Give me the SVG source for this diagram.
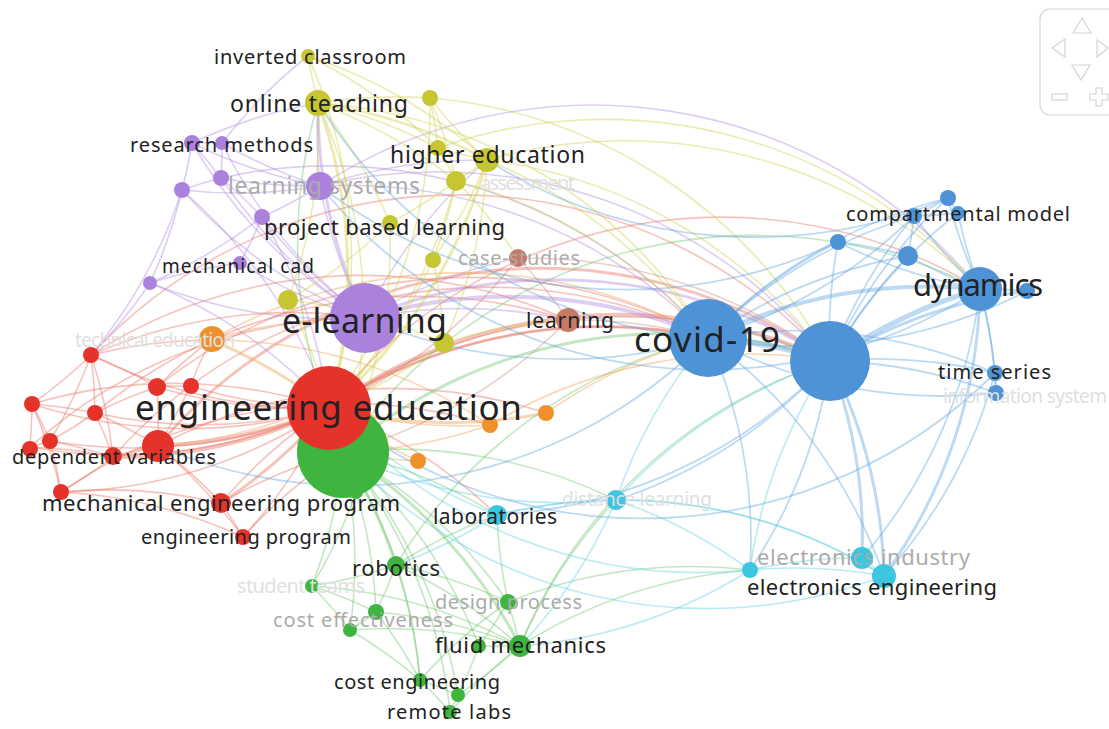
<svg xmlns="http://www.w3.org/2000/svg" width="1109" height="729" viewBox="0 0 1109 729">
<style>
path{fill:none;stroke-linecap:round}
.er{stroke:#e8705f;stroke-opacity:.42;stroke-width:1.6}
.eg{stroke:#62c062;stroke-opacity:.38;stroke-width:1.6}
.ep{stroke:#b08be0;stroke-opacity:.42;stroke-width:1.6}
.ey{stroke:#cfcf48;stroke-opacity:.42;stroke-width:1.6}
.eb{stroke:#c8907e;stroke-opacity:.42;stroke-width:1.6}
.eo{stroke:#f0a050;stroke-opacity:.42;stroke-width:1.6}
.ec{stroke:#64a6e0;stroke-opacity:.42;stroke-width:1.8}
.ek{stroke:#5cd0e0;stroke-opacity:.42;stroke-width:1.6}
.red{fill:#e5332b}.grn{fill:#3fb53f}.pur{fill:#aa82de}.yel{fill:#c6c632}.brn{fill:#c67a66}.org{fill:#f0902c}.blu{fill:#4d93d6}.cyn{fill:#3cc6e0}
text{font-family:"Noto Sans","Liberation Sans",sans-serif;fill:#222}
.f{fill:#ababab}.ff{fill:#e0e0e0}
.nav{fill:none;stroke:#d4d4d4;stroke-width:1.2}
</style>
<rect width="1109" height="729" fill="#fff"/>
<g id="connectors">
<path class="er" d="M329 408A500 500 0 0 1 91 355"/>
<path class="er" d="M329 408A500 500 0 0 1 32 404"/>
<path class="er" d="M329 408A500 500 0 0 1 95 413"/>
<path class="er" d="M329 408A500 500 0 0 1 157 387"/>
<path class="er" d="M329 408A500 500 0 0 1 190 386"/>
<path class="er" d="M329 408A500 500 0 0 1 50 441"/>
<path class="er" d="M329 408A500 500 0 0 1 30 447"/>
<path class="er" style="stroke-width:4" d="M329 408A500 500 0 0 1 113 457"/>
<path class="er" style="stroke-width:4" d="M329 408A500 500 0 0 1 158 446"/>
<path class="er" d="M329 408A500 500 0 0 1 61 492"/>
<path class="er" style="stroke-width:3" d="M329 408A500 500 0 0 1 221 503"/>
<path class="er" d="M329 408A500 500 0 0 1 243 537"/>
<path class="er" d="M91 355A500 500 0 0 1 32 404"/>
<path class="er" d="M91 355A500 500 0 0 1 95 413"/>
<path class="er" d="M91 355A500 500 0 0 1 157 387"/>
<path class="er" d="M91 355A500 500 0 0 1 211 340"/>
<path class="er" d="M91 355A500 500 0 0 1 50 441"/>
<path class="er" d="M91 355A500 500 0 0 1 113 457"/>
<path class="er" d="M91 355A500 500 0 0 1 365 318"/>
<path class="er" d="M32 404A500 500 0 0 1 95 413"/>
<path class="er" d="M32 404A500 500 0 0 1 50 441"/>
<path class="er" d="M32 404A500 500 0 0 1 30 447"/>
<path class="er" d="M32 404A500 500 0 0 1 61 492"/>
<path class="er" d="M95 413A500 500 0 0 1 157 387"/>
<path class="er" d="M95 413A500 500 0 0 1 50 441"/>
<path class="er" d="M95 413A500 500 0 0 1 158 446"/>
<path class="er" d="M95 413A500 500 0 0 1 113 457"/>
<path class="er" d="M157 387A500 500 0 0 1 190 386"/>
<path class="er" d="M157 387A500 500 0 0 1 158 446"/>
<path class="er" d="M157 387A500 500 0 0 1 211 340"/>
<path class="er" d="M190 386A500 500 0 0 1 211 340"/>
<path class="er" d="M190 386A500 500 0 0 1 158 446"/>
<path class="er" d="M50 441A500 500 0 0 1 30 447"/>
<path class="er" d="M50 441A500 500 0 0 1 113 457"/>
<path class="er" d="M50 441A500 500 0 0 1 61 492"/>
<path class="er" d="M30 447A500 500 0 0 1 113 457"/>
<path class="er" style="stroke-width:3" d="M113 457A500 500 0 0 1 158 446"/>
<path class="er" d="M113 457A500 500 0 0 1 61 492"/>
<path class="er" d="M158 446A500 500 0 0 1 221 503"/>
<path class="er" d="M158 446A500 500 0 0 1 243 537"/>
<path class="er" d="M61 492A500 500 0 0 1 221 503"/>
<path class="er" d="M61 492A500 500 0 0 1 243 537"/>
<path class="er" d="M221 503A500 500 0 0 1 243 537"/>
<path class="er" d="M221 503A500 500 0 0 1 343 452"/>
<path class="er" d="M243 537A500 500 0 0 1 343 452"/>
<path class="er" style="stroke-width:3" d="M158 446A500 500 0 0 1 830 361"/>
<path class="er" d="M113 457A500 500 0 0 1 708 338"/>
<path class="er" d="M91 355A500 500 0 0 1 568 320"/>
<path class="er" d="M158 446A500 500 0 0 1 546 413"/>
<path class="er" style="stroke-width:3" d="M329 408A500 500 0 0 1 708 338"/>
<path class="er" style="stroke-width:4" d="M329 408A500 500 0 0 1 830 361"/>
<path class="er" d="M329 408A500 500 0 0 1 568 320"/>
<path class="er" d="M329 408A500 500 0 0 1 497 515"/>
<path class="er" d="M329 408A500 500 0 0 1 980 289"/>
<path class="er" d="M157 387A500 500 0 0 1 708 338"/>
<path class="er" d="M30 447A500 500 0 0 1 365 318"/>
<path class="er" d="M61 492A500 500 0 0 1 490 425"/>
<path class="er" d="M91 355A500 500 0 0 1 830 361"/>
<path class="er" d="M95 413A500 500 0 0 1 568 320"/>
<path class="er" d="M221 503A500 500 0 0 1 708 338"/>
<path class="er" d="M32 404A500 500 0 0 1 329 408"/>
<path class="eo" style="stroke-width:3" d="M211 340A500 500 0 0 1 329 408"/>
<path class="eo" d="M490 425A500 500 0 0 1 329 408"/>
<path class="eo" style="stroke-width:3" d="M546 413A500 500 0 0 1 329 408"/>
<path class="eo" d="M418 461A500 500 0 0 1 329 408"/>
<path class="eo" d="M490 425A500 500 0 0 1 343 452"/>
<path class="eo" d="M211 340A500 500 0 0 1 365 318"/>
<path class="eo" d="M546 413A500 500 0 0 1 708 338"/>
<path class="eo" d="M490 425A500 500 0 0 1 830 361"/>
<path class="eo" d="M418 461A500 500 0 0 1 343 452"/>
<path class="eo" d="M211 340A500 500 0 0 1 490 425"/>
<path class="eo" d="M283 420A500 500 0 0 1 158 446"/>
<path class="eo" d="M211 340A500 500 0 0 1 708 338"/>
<path class="eg" d="M343 452A500 500 0 0 1 356 492"/>
<path class="eg" style="stroke-width:3" d="M343 452A500 500 0 0 1 396 565"/>
<path class="eg" d="M343 452A500 500 0 0 1 312 586"/>
<path class="eg" d="M343 452A500 500 0 0 1 376 612"/>
<path class="eg" d="M343 452A500 500 0 0 1 350 630"/>
<path class="eg" d="M343 452A500 500 0 0 1 508 602"/>
<path class="eg" style="stroke-width:3" d="M343 452A500 500 0 0 1 520 646"/>
<path class="eg" d="M343 452A500 500 0 0 1 479 646"/>
<path class="eg" d="M343 452A500 500 0 0 1 420 680"/>
<path class="eg" d="M343 452A500 500 0 0 1 458 695"/>
<path class="eg" d="M343 452A500 500 0 0 1 450 712"/>
<path class="eg" d="M343 452A500 500 0 0 1 497 515"/>
<path class="eg" d="M343 452A500 500 0 0 1 616 500"/>
<path class="eg" style="stroke-width:3" d="M343 452A500 500 0 0 1 830 361"/>
<path class="eg" d="M343 452A500 500 0 0 1 318 103"/>
<path class="eg" d="M396 565A500 500 0 0 1 312 586"/>
<path class="eg" d="M396 565A500 500 0 0 1 376 612"/>
<path class="eg" d="M396 565A500 500 0 0 1 508 602"/>
<path class="eg" d="M396 565A500 500 0 0 1 520 646"/>
<path class="eg" d="M396 565A500 500 0 0 1 420 680"/>
<path class="eg" d="M396 565A500 500 0 0 1 497 515"/>
<path class="eg" d="M312 586A500 500 0 0 1 376 612"/>
<path class="eg" d="M312 586A500 500 0 0 1 350 630"/>
<path class="eg" d="M376 612A500 500 0 0 1 350 630"/>
<path class="eg" d="M376 612A500 500 0 0 1 420 680"/>
<path class="eg" d="M350 630A500 500 0 0 1 420 680"/>
<path class="eg" d="M508 602A500 500 0 0 1 520 646"/>
<path class="eg" d="M508 602A500 500 0 0 1 479 646"/>
<path class="eg" d="M520 646A500 500 0 0 1 479 646"/>
<path class="eg" d="M520 646A500 500 0 0 1 458 695"/>
<path class="eg" d="M479 646A500 500 0 0 1 458 695"/>
<path class="eg" d="M420 680A500 500 0 0 1 458 695"/>
<path class="eg" d="M420 680A500 500 0 0 1 450 712"/>
<path class="eg" d="M458 695A500 500 0 0 1 450 712"/>
<path class="eg" d="M508 602A500 500 0 0 1 497 515"/>
<path class="eg" d="M520 646A500 500 0 0 1 616 500"/>
<path class="eg" d="M520 646A500 500 0 0 1 750 570"/>
<path class="eg" d="M376 612A500 500 0 0 1 520 646"/>
<path class="eg" d="M350 630A500 500 0 0 1 520 646"/>
<path class="eg" d="M312 586A500 500 0 0 1 520 646"/>
<path class="eg" d="M520 646A500 500 0 0 1 830 361"/>
<path class="eg" d="M508 602A500 500 0 0 1 750 570"/>
<path class="eg" d="M356 492A500 500 0 0 1 312 586"/>
<path class="eg" d="M420 680A500 500 0 0 1 508 602"/>
<path class="eg" d="M450 712A500 500 0 0 1 520 646"/>
<path class="eg" d="M396 565A500 500 0 0 1 708 338"/>
<path class="eg" d="M343 452A500 500 0 0 1 980 289"/>
<path class="ep" d="M365 318A500 500 0 0 1 320 186"/>
<path class="ep" d="M365 318A500 500 0 0 1 192 143"/>
<path class="ep" d="M365 318A500 500 0 0 1 222 143"/>
<path class="ep" d="M365 318A500 500 0 0 1 182 190"/>
<path class="ep" d="M365 318A500 500 0 0 1 221 178"/>
<path class="ep" d="M365 318A500 500 0 0 1 262 217"/>
<path class="ep" d="M365 318A500 500 0 0 1 150 283"/>
<path class="ep" d="M365 318A500 500 0 0 1 240 263"/>
<path class="ep" style="stroke-width:3" d="M365 318A500 500 0 0 1 318 103"/>
<path class="ep" d="M365 318A500 500 0 0 1 487 160"/>
<path class="ep" style="stroke-width:4" d="M365 318A500 500 0 0 1 708 338"/>
<path class="ep" style="stroke-width:3" d="M365 318A500 500 0 0 1 830 361"/>
<path class="ep" d="M365 318A500 500 0 0 1 568 320"/>
<path class="ep" d="M365 318A500 500 0 0 1 518 258"/>
<path class="ep" d="M320 186A500 500 0 0 1 192 143"/>
<path class="ep" d="M320 186A500 500 0 0 1 222 143"/>
<path class="ep" d="M320 186A500 500 0 0 1 182 190"/>
<path class="ep" d="M320 186A500 500 0 0 1 221 178"/>
<path class="ep" d="M320 186A500 500 0 0 1 262 217"/>
<path class="ep" d="M320 186A500 500 0 0 1 318 103"/>
<path class="ep" d="M320 186A500 500 0 0 1 487 160"/>
<path class="ep" d="M320 186A500 500 0 0 1 830 361"/>
<path class="ep" d="M192 143A500 500 0 0 1 222 143"/>
<path class="ep" d="M192 143A500 500 0 0 1 182 190"/>
<path class="ep" d="M192 143A500 500 0 0 1 221 178"/>
<path class="ep" d="M222 143A500 500 0 0 1 221 178"/>
<path class="ep" d="M182 190A500 500 0 0 1 221 178"/>
<path class="ep" d="M182 190A500 500 0 0 1 150 283"/>
<path class="ep" d="M182 190A500 500 0 0 1 91 355"/>
<path class="ep" d="M221 178A500 500 0 0 1 262 217"/>
<path class="ep" d="M262 217A500 500 0 0 1 150 283"/>
<path class="ep" d="M262 217A500 500 0 0 1 240 263"/>
<path class="ep" d="M150 283A500 500 0 0 1 240 263"/>
<path class="ep" d="M150 283A500 500 0 0 1 91 355"/>
<path class="ep" d="M192 143A500 500 0 0 1 318 103"/>
<path class="ep" d="M222 143A500 500 0 0 1 308 56"/>
<path class="ep" d="M182 190A500 500 0 0 1 329 408"/>
<path class="ep" d="M150 283A500 500 0 0 1 329 408"/>
<path class="ep" d="M262 217A500 500 0 0 1 329 408"/>
<path class="ep" d="M320 186A500 500 0 0 1 708 338"/>
<path class="ep" d="M320 186A500 500 0 0 1 980 289"/>
<path class="ep" d="M221 178A500 500 0 0 1 708 338"/>
<path class="ey" d="M318 103A500 500 0 0 1 308 56"/>
<path class="ey" d="M318 103A500 500 0 0 1 430 98"/>
<path class="ey" style="stroke-width:2.5" d="M318 103A500 500 0 0 1 487 160"/>
<path class="ey" d="M318 103A500 500 0 0 1 438 148"/>
<path class="ey" d="M318 103A500 500 0 0 1 456 181"/>
<path class="ey" d="M318 103A500 500 0 0 1 390 223"/>
<path class="ey" d="M318 103A500 500 0 0 1 288 300"/>
<path class="ey" style="stroke-width:3" d="M318 103A500 500 0 0 1 329 408"/>
<path class="ey" d="M487 160A500 500 0 0 1 430 98"/>
<path class="ey" d="M487 160A500 500 0 0 1 438 148"/>
<path class="ey" d="M487 160A500 500 0 0 1 456 181"/>
<path class="ey" d="M487 160A500 500 0 0 1 433 260"/>
<path class="ey" d="M487 160A500 500 0 0 1 444 343"/>
<path class="ey" style="stroke-width:3" d="M487 160A500 500 0 0 1 329 408"/>
<path class="ey" d="M487 160A500 500 0 0 1 830 361"/>
<path class="ey" d="M487 160A500 500 0 0 1 980 289"/>
<path class="ey" d="M430 98A500 500 0 0 1 438 148"/>
<path class="ey" d="M430 98A500 500 0 0 1 456 181"/>
<path class="ey" d="M308 56A500 500 0 0 1 438 148"/>
<path class="ey" d="M308 56A500 500 0 0 1 487 160"/>
<path class="ey" d="M438 148A500 500 0 0 1 456 181"/>
<path class="ey" d="M456 181A500 500 0 0 1 433 260"/>
<path class="ey" d="M456 181A500 500 0 0 1 390 223"/>
<path class="ey" d="M456 181A500 500 0 0 1 329 408"/>
<path class="ey" d="M456 181A500 500 0 0 1 518 258"/>
<path class="ey" d="M433 260A500 500 0 0 1 444 343"/>
<path class="ey" d="M433 260A500 500 0 0 1 329 408"/>
<path class="ey" d="M390 223A500 500 0 0 1 288 300"/>
<path class="ey" d="M288 300A500 500 0 0 1 329 408"/>
<path class="ey" d="M288 300A500 500 0 0 1 444 343"/>
<path class="ey" d="M444 343A500 500 0 0 1 329 408"/>
<path class="ey" d="M444 343A500 500 0 0 1 568 320"/>
<path class="ey" d="M430 98A500 500 0 0 1 329 408"/>
<path class="ey" d="M308 56A500 500 0 0 1 329 408"/>
<path class="ey" d="M487 160A500 500 0 0 1 708 338"/>
<path class="ey" d="M456 181A500 500 0 0 1 708 338"/>
<path class="ey" d="M430 98A500 500 0 0 1 830 361"/>
<path class="ey" d="M318 103A500 500 0 0 1 343 452"/>
<path class="ey" d="M390 223A500 500 0 0 1 343 452"/>
<path class="ey" d="M318 103A500 500 0 0 1 708 338"/>
<path class="ey" d="M438 148A500 500 0 0 1 980 289"/>
<path class="eb" d="M518 258A500 500 0 0 1 568 320"/>
<path class="eb" d="M518 258A500 500 0 0 1 329 408"/>
<path class="eb" d="M568 320A500 500 0 0 1 708 338"/>
<path class="eb" d="M568 320A500 500 0 0 1 830 361"/>
<path class="eb" d="M518 258A500 500 0 0 1 830 361"/>
<path class="eb" d="M568 320A500 500 0 0 1 343 452"/>
<path class="ec" style="stroke-width:6" d="M708 338A500 500 0 0 1 830 361"/>
<path class="ec" style="stroke-width:5" d="M830 361A500 500 0 0 1 980 289"/>
<path class="ec" style="stroke-width:4" d="M708 338A500 500 0 0 1 980 289"/>
<path class="ec" d="M830 361A500 500 0 0 1 948 198"/>
<path class="ec" d="M830 361A500 500 0 0 1 958 213"/>
<path class="ec" d="M830 361A500 500 0 0 1 914 216"/>
<path class="ec" d="M830 361A500 500 0 0 1 838 242"/>
<path class="ec" d="M830 361A500 500 0 0 1 908 256"/>
<path class="ec" style="stroke-width:3" d="M830 361A500 500 0 0 1 1027 291"/>
<path class="ec" d="M830 361A500 500 0 0 1 995 373"/>
<path class="ec" d="M830 361A500 500 0 0 1 996 393"/>
<path class="ec" d="M708 338A500 500 0 0 1 948 198"/>
<path class="ec" d="M708 338A500 500 0 0 1 914 216"/>
<path class="ec" d="M708 338A500 500 0 0 1 838 242"/>
<path class="ec" d="M708 338A500 500 0 0 1 908 256"/>
<path class="ec" d="M708 338A500 500 0 0 1 995 373"/>
<path class="ec" d="M980 289A500 500 0 0 1 948 198"/>
<path class="ec" d="M980 289A500 500 0 0 1 958 213"/>
<path class="ec" d="M980 289A500 500 0 0 1 914 216"/>
<path class="ec" d="M980 289A500 500 0 0 1 838 242"/>
<path class="ec" d="M980 289A500 500 0 0 1 908 256"/>
<path class="ec" d="M980 289A500 500 0 0 1 1027 291"/>
<path class="ec" d="M980 289A500 500 0 0 1 995 373"/>
<path class="ec" d="M980 289A500 500 0 0 1 996 393"/>
<path class="ec" d="M948 198A500 500 0 0 1 958 213"/>
<path class="ec" d="M948 198A500 500 0 0 1 914 216"/>
<path class="ec" d="M958 213A500 500 0 0 1 914 216"/>
<path class="ec" d="M914 216A500 500 0 0 1 908 256"/>
<path class="ec" d="M838 242A500 500 0 0 1 908 256"/>
<path class="ec" d="M995 373A500 500 0 0 1 996 393"/>
<path class="ec" d="M830 361A500 500 0 0 1 497 515"/>
<path class="ec" d="M830 361A500 500 0 0 1 616 500"/>
<path class="ec" d="M708 338A500 500 0 0 1 750 570"/>
<path class="ec" d="M980 289A500 500 0 0 1 862 558"/>
<path class="ec" style="stroke-width:3" d="M830 361A500 500 0 0 1 862 558"/>
<path class="ec" style="stroke-width:3" d="M830 361A500 500 0 0 1 884 576"/>
<path class="ec" d="M708 338A500 500 0 0 1 884 576"/>
<path class="ec" style="stroke-width:3" d="M980 289A500 500 0 0 1 884 576"/>
<path class="ec" d="M995 373A500 500 0 0 1 884 576"/>
<path class="ec" d="M708 338A500 500 0 0 1 158 446"/>
<path class="ec" d="M708 338A500 500 0 0 1 318 103"/>
<path class="ec" d="M980 289A500 500 0 0 1 320 186"/>
<path class="ec" d="M838 242A500 500 0 0 1 320 186"/>
<path class="ec" d="M948 198A500 500 0 0 1 487 160"/>
<path class="ec" d="M1027 291A500 500 0 0 1 708 338"/>
<path class="ec" d="M996 393A500 500 0 0 1 708 338"/>
<path class="ec" d="M830 361A500 500 0 0 1 750 570"/>
<path class="ec" d="M914 216A500 500 0 0 1 365 318"/>
<path class="ec" d="M995 373A500 500 0 0 1 329 408"/>
<path class="ek" d="M497 515A500 500 0 0 1 616 500"/>
<path class="ek" d="M497 515A500 500 0 0 1 329 408"/>
<path class="ek" d="M616 500A500 500 0 0 1 343 452"/>
<path class="ek" d="M616 500A500 500 0 0 1 750 570"/>
<path class="ek" d="M616 500A500 500 0 0 1 884 576"/>
<path class="ek" d="M750 570A500 500 0 0 1 862 558"/>
<path class="ek" d="M750 570A500 500 0 0 1 884 576"/>
<path class="ek" d="M862 558A500 500 0 0 1 884 576"/>
<path class="ek" d="M616 500A500 500 0 0 1 708 338"/>
<path class="ek" d="M616 500A500 500 0 0 1 830 361"/>
<path class="ek" d="M750 570A500 500 0 0 1 830 361"/>
<path class="ek" d="M750 570A500 500 0 0 1 520 646"/>
<path class="ek" d="M497 515A500 500 0 0 1 396 565"/>
<path class="ek" d="M616 500A500 500 0 0 1 520 646"/>
<path class="ek" d="M497 515A500 500 0 0 1 884 576"/>
<path class="ek" d="M750 570A500 500 0 0 1 329 408"/>
<path class="ek" d="M884 576A500 500 0 0 1 343 452"/>
</g>
<g id="nodes">
<g id="n-engineering-education-green"><circle class="grn" cx="343" cy="452" r="46"/></g>
<g id="n-engineering-education"><circle class="red" cx="329" cy="408" r="42"/></g>
<g id="n-r1"><circle class="red" cx="91" cy="355" r="8"/></g>
<g id="n-r2"><circle class="red" cx="32" cy="404" r="8"/></g>
<g id="n-r3"><circle class="red" cx="95" cy="413" r="8"/></g>
<g id="n-r4"><circle class="red" cx="157" cy="387" r="9"/></g>
<g id="n-r5"><circle class="red" cx="191" cy="386" r="8"/></g>
<g id="n-r6"><circle class="red" cx="50" cy="441" r="8"/></g>
<g id="n-r7"><circle class="red" cx="30" cy="449" r="8"/></g>
<g id="n-dependent-variables"><circle class="red" cx="113" cy="456" r="9"/></g>
<g id="n-r9"><circle class="red" cx="158" cy="446" r="16"/></g>
<g id="n-r10"><circle class="red" cx="61" cy="492" r="8"/></g>
<g id="n-mechanical-engineering-program"><circle class="red" cx="221" cy="503" r="10"/></g>
<g id="n-engineering-program"><circle class="red" cx="243" cy="537" r="8"/></g>
<g id="n-o1"><circle class="org" cx="212" cy="339" r="13"/></g>
<g id="n-o2"><circle class="org" cx="490" cy="425" r="8"/></g>
<g id="n-o3"><circle class="org" cx="546" cy="413" r="8"/></g>
<g id="n-o4"><circle class="org" cx="418" cy="461" r="8"/></g>
<g id="n-g1"><circle class="grn" cx="356" cy="492" r="7"/></g>
<g id="n-robotics"><circle class="grn" cx="396" cy="565" r="9"/></g>
<g id="n-student-teams"><circle class="grn" cx="312" cy="586" r="7"/></g>
<g id="n-cost-effectiveness"><circle class="grn" cx="376" cy="612" r="8"/></g>
<g id="n-g5"><circle class="grn" cx="350" cy="630" r="7"/></g>
<g id="n-design-process"><circle class="grn" cx="508" cy="602" r="8"/></g>
<g id="n-fluid-mechanics"><circle class="grn" cx="520" cy="646" r="11"/></g>
<g id="n-g8"><circle class="grn" cx="479" cy="646" r="7"/></g>
<g id="n-cost-engineering"><circle class="grn" cx="420" cy="680" r="7"/></g>
<g id="n-g10"><circle class="grn" cx="458" cy="695" r="7"/></g>
<g id="n-remote-labs"><circle class="grn" cx="450" cy="712" r="7"/></g>
<g id="n-e-learning"><circle class="pur" cx="365" cy="318" r="35"/></g>
<g id="n-learning-systems"><circle class="pur" cx="320" cy="186" r="14"/></g>
<g id="n-research-methods"><circle class="pur" cx="192" cy="143" r="8"/></g>
<g id="n-p3"><circle class="pur" cx="222" cy="143" r="7"/></g>
<g id="n-p4"><circle class="pur" cx="182" cy="190" r="8"/></g>
<g id="n-p5"><circle class="pur" cx="221" cy="178" r="8"/></g>
<g id="n-p6"><circle class="pur" cx="262" cy="217" r="8"/></g>
<g id="n-p7"><circle class="pur" cx="150" cy="283" r="7"/></g>
<g id="n-mechanical-cad"><circle class="pur" cx="240" cy="263" r="7"/></g>
<g id="n-inverted-classroom"><circle class="yel" cx="308" cy="56" r="7"/></g>
<g id="n-online-teaching"><circle class="yel" cx="318" cy="103" r="13"/></g>
<g id="n-y3"><circle class="yel" cx="430" cy="98" r="8"/></g>
<g id="n-higher-education"><circle class="yel" cx="487" cy="160" r="12"/></g>
<g id="n-y5"><circle class="yel" cx="438" cy="148" r="8"/></g>
<g id="n-y6"><circle class="yel" cx="456" cy="181" r="10"/></g>
<g id="n-y7"><circle class="yel" cx="433" cy="260" r="8"/></g>
<g id="n-project-based-learning"><circle class="yel" cx="390" cy="223" r="8"/></g>
<g id="n-y9"><circle class="yel" cx="288" cy="300" r="10"/></g>
<g id="n-y10"><circle class="yel" cx="444" cy="343" r="10"/></g>
<g id="n-case-studies"><circle class="brn" cx="518" cy="258" r="9"/></g>
<g id="n-learning"><circle class="brn" cx="568" cy="320" r="12"/></g>
<g id="n-covid-19"><circle class="blu" cx="708" cy="338" r="39"/></g>
<g id="n-c1"><circle class="blu" cx="830" cy="361" r="40"/></g>
<g id="n-dynamics"><circle class="blu" cx="980" cy="289" r="22"/></g>
<g id="n-c3"><circle class="blu" cx="948" cy="198" r="8"/></g>
<g id="n-compartmental-model"><circle class="blu" cx="958" cy="213" r="7"/></g>
<g id="n-c5"><circle class="blu" cx="914" cy="216" r="8"/></g>
<g id="n-c6"><circle class="blu" cx="838" cy="242" r="8"/></g>
<g id="n-c7"><circle class="blu" cx="908" cy="256" r="10"/></g>
<g id="n-c8"><circle class="blu" cx="1027" cy="291" r="8"/></g>
<g id="n-time-series"><circle class="blu" cx="995" cy="373" r="8"/></g>
<g id="n-information-system"><circle class="blu" cx="996" cy="393" r="8"/></g>
<g id="n-laboratories"><circle class="cyn" cx="497" cy="515" r="10"/></g>
<g id="n-distance-learning"><circle class="cyn" cx="616" cy="500" r="10"/></g>
<g id="n-k3"><circle class="cyn" cx="750" cy="570" r="8"/></g>
<g id="n-electronics-industry"><circle class="cyn" cx="862" cy="558" r="11"/></g>
<g id="n-electronics-engineering"><circle class="cyn" cx="884" cy="576" r="12"/></g>
</g>
<g id="labels">
<text x="214" y="64" font-size="20" textLength="192">inverted classroom</text>
<text x="230" y="112" font-size="23" textLength="178">online teaching</text>
<text x="130" y="152" font-size="20" textLength="183">research methods</text>
<text x="390" y="163" font-size="23" textLength="195">higher education</text>
<text class="f" x="228" y="194" font-size="23" textLength="192">learning systems</text>
<text class="ff" x="480" y="190" font-size="20" textLength="95">assessment</text>
<text x="264" y="235" font-size="22" textLength="241">project based learning</text>
<text class="f" x="458" y="265" font-size="20" textLength="122">case-studies</text>
<text x="162" y="273" font-size="19" textLength="152">mechanical cad</text>
<text class="ff" x="75" y="347" font-size="19" textLength="160">technical education</text>
<text x="282" y="333" font-size="34" textLength="165">e-learning</text>
<text x="526" y="328" font-size="21" textLength="88">learning</text>
<text x="634" y="352" font-size="35" textLength="146">covid-19</text>
<text x="913" y="296" font-size="31" textLength="130">dynamics</text>
<text x="846" y="221" font-size="20" textLength="224">compartmental model</text>
<text x="938" y="379" font-size="20" textLength="113">time series</text>
<text class="ff" x="943" y="403" font-size="19" textLength="164">information system</text>
<text x="135" y="420" font-size="35" textLength="387">engineering education</text>
<text x="12" y="464" font-size="20" textLength="204">dependent variables</text>
<text x="42" y="511" font-size="22" textLength="358">mechanical engineering program</text>
<text x="141" y="544" font-size="20" textLength="210">engineering program</text>
<text x="433" y="524" font-size="21" textLength="124">laboratories</text>
<text class="ff" x="562" y="506" font-size="19" textLength="150">distance learning</text>
<text x="352" y="576" font-size="22" textLength="88">robotics</text>
<text class="ff" x="237" y="593" font-size="20" textLength="128">student teams</text>
<text class="f" x="435" y="609" font-size="20" textLength="147">design process</text>
<text class="f" x="273" y="627" font-size="20" textLength="180">cost effectiveness</text>
<text x="435" y="653" font-size="22" textLength="171">fluid mechanics</text>
<text x="334" y="689" font-size="20" textLength="166">cost engineering</text>
<text x="387" y="719" font-size="20" textLength="124">remote labs</text>
<text class="f" x="757" y="565" font-size="22" textLength="213">electronics industry</text>
<text x="747" y="595" font-size="22" textLength="250">electronics engineering</text>
</g>
<g id="navigation">
<rect class="nav" x="1040" y="9" width="80" height="106" rx="10"/>
<path class="nav" d="M1082 18L1073 33H1091Z"/>
<path class="nav" d="M1052 48L1065 39V57Z"/>
<path class="nav" d="M1097 40L1108 48L1097 57Z"/>
<path class="nav" d="M1072 65H1090L1081 80Z"/>
<rect class="nav" x="1052" y="94" width="15" height="6"/>
<path class="nav" d="M1096 88H1102V94H1108V100H1102V106H1096V100H1090V94H1096Z"/>
</g>
</svg>
